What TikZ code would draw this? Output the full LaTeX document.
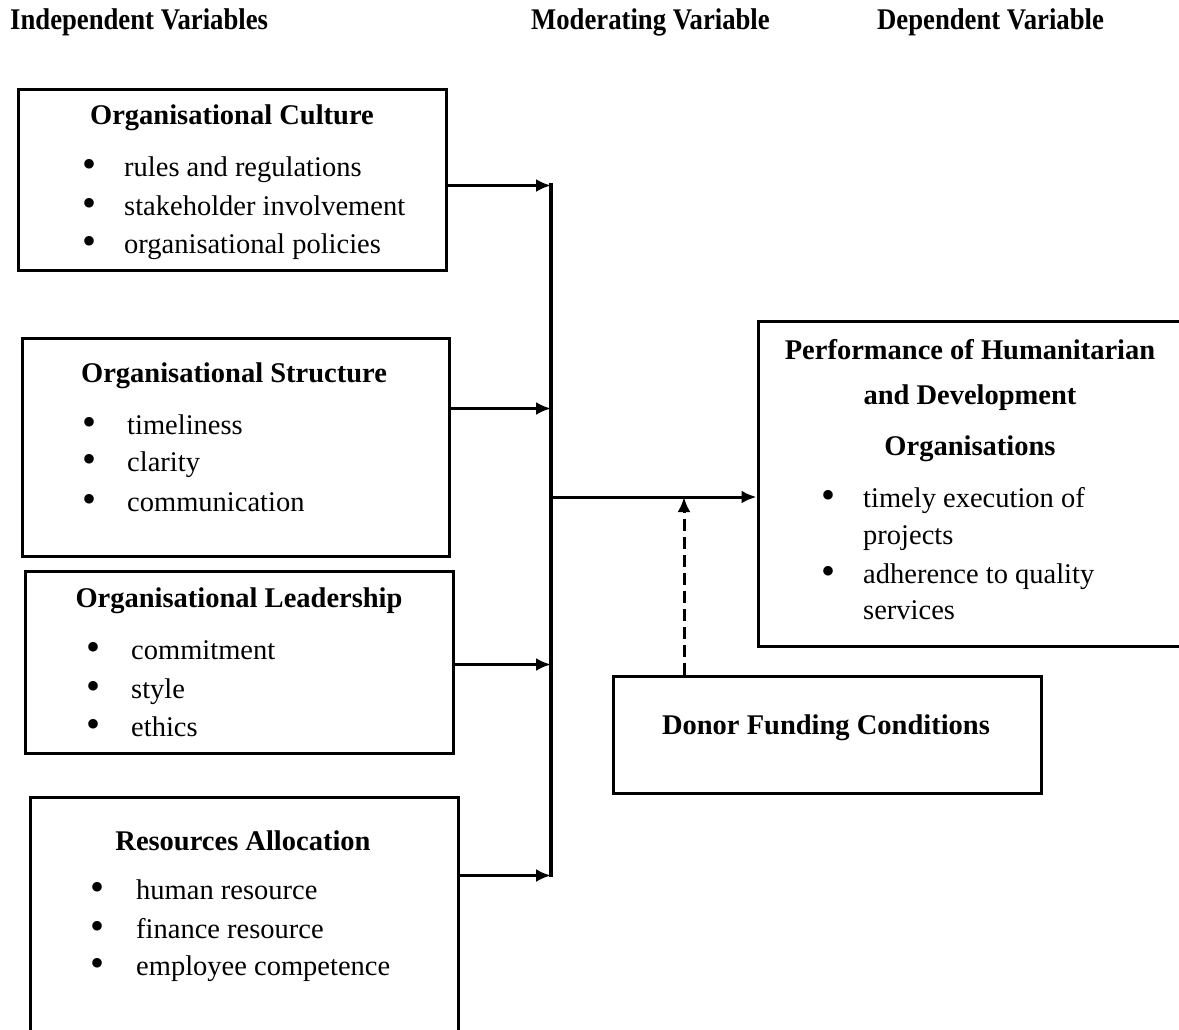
\documentclass[tikz,border=0pt]{standalone}
\usepackage{fontspec}
\setmainfont{Liberation Serif}
\usetikzlibrary{arrows.meta}
\tikzset{
  box/.style={draw, line width=3pt, rectangle, inner sep=0pt},
  ttl/.style={font=\fontsize{28.5}{30}\selectfont\bfseries, inner sep=0pt, anchor=center},
  hdr/.style={font=\fontsize{30}{32}\selectfont\bfseries, inner sep=0pt, anchor=west, xscale=0.89},
  bul/.style={font=\fontsize{40}{40}\selectfont, inner sep=0pt, anchor=center},
  itm/.style={font=\fontsize{28.5}{30}\selectfont, inner sep=0pt, anchor=base west},
  arr/.style={line width=3pt, -{Latex[length=15pt,width=13pt]}},
  bus/.style={line width=3.5pt}
}
\begin{document}
\begin{tikzpicture}[x=1pt,y=-1pt]
\useasboundingbox[fill=white] (0,0) rectangle (1179,1029);
% headers
\node[hdr] (h1) at (10,22) {Independent Variables};
\node[hdr] (h2) at (531,22) {Moderating Variable};
\node[hdr] (h3) at (877,22) {Dependent Variable};
% box 1
\node[box, minimum width=428pt, minimum height=181pt] (c1) at (232,179.5) {};
\node[ttl] (c1t) at (232,118) {Organisational Culture};
\node[bul] (c1b1) at (90,168) {\textbullet}; \node[itm] (c1i1) at (124,176) {rules and regulations};
\node[bul] (c1b2) at (90,207) {\textbullet}; \node[itm] (c1i2) at (124,215) {stakeholder involvement};
\node[bul] (c1b3) at (90,245) {\textbullet}; \node[itm] (c1i3) at (124,253) {organisational policies};
% box 2
\node[box, minimum width=427pt, minimum height=218pt] (c2) at (235.5,447) {};
\node[ttl] (c2t) at (234,376) {Organisational Structure};
\node[bul] (c2b1) at (90,426) {\textbullet}; \node[itm] (c2i1) at (127,434) {timeliness};
\node[bul] (c2b2) at (90,463) {\textbullet}; \node[itm] (c2i2) at (127,471) {clarity};
\node[bul] (c2b3) at (90,503) {\textbullet}; \node[itm] (c2i3) at (127,511) {communication};
% box 3
\node[box, minimum width=428pt, minimum height=182pt] (c3) at (239,662) {};
\node[ttl] (c3t) at (239,601) {Organisational Leadership};
\node[bul] (c3b1) at (94,651) {\textbullet}; \node[itm] (c3i1) at (131,659) {commitment};
\node[bul] (c3b2) at (94,690) {\textbullet}; \node[itm] (c3i2) at (131,698) {style};
\node[bul] (c3b3) at (94,728) {\textbullet}; \node[itm] (c3i3) at (131,736) {ethics};
% box 4
\node[box, minimum width=428pt, minimum height=240pt] (c4) at (244,917) {};
\node[ttl] (c4t) at (243,841) {Resources Allocation};
\node[bul] (c4b1) at (98,891) {\textbullet}; \node[itm] (c4i1) at (136,899) {human resource};
\node[bul] (c4b2) at (98,930) {\textbullet}; \node[itm] (c4i2) at (136,938) {finance resource};
\node[bul] (c4b3) at (98,967) {\textbullet}; \node[itm] (c4i3) at (136,975) {employee competence};
% dependent box
\node[box, minimum width=424pt, minimum height=325pt] (dv) at (970,483.5) {};
\node[ttl] (dvt1) at (970,350) {Performance of Humanitarian};
\node[ttl] (dvt2) at (970,398) {and Development};
\node[ttl] (dvt3) at (970,449) {Organisations};
\node[bul] (dvb1) at (828,499) {\textbullet}; \node[itm] (dvi1) at (863,507) {timely execution of};
\node[itm] (dvi1b) at (863,544) {projects};
\node[bul] (dvb2) at (828,575) {\textbullet}; \node[itm] (dvi2) at (863,583) {adherence to quality};
\node[itm] (dvi2b) at (863,619) {services};
% moderating box
\node[box, minimum width=428pt, minimum height=117pt] (mv) at (827,734.5) {};
\node[ttl] (mvt) at (826,728) {Donor Funding Conditions};
% bus
\coordinate (bt) at (551,183);
\coordinate (bb) at (551,877);
\coordinate (mid) at (551,497);
\coordinate (dash) at (684,497);
\draw[bus] (bt) -- (bb);
\draw[arr] ([yshift=-6pt]c1.east) -- ([yshift=-6pt]c1.east -| bt);
\draw[arr] ([yshift=-72pt]c2.north east) -- ([yshift=-72pt]c2.north east -| bt);
\draw[arr] ([yshift=-95pt]c3.north east) -- ([yshift=-95pt]c3.north east -| bt);
\draw[arr] ([yshift=-80pt]c4.north east) -- ([yshift=-80pt]c4.north east -| bt);
\draw[arr] (mid) -- (mid -| dv.west);
\draw[arr, dashed, dash pattern=on 12pt off 6pt] (mv.north -| dash) -- (dash);
\end{tikzpicture}
\end{document}
